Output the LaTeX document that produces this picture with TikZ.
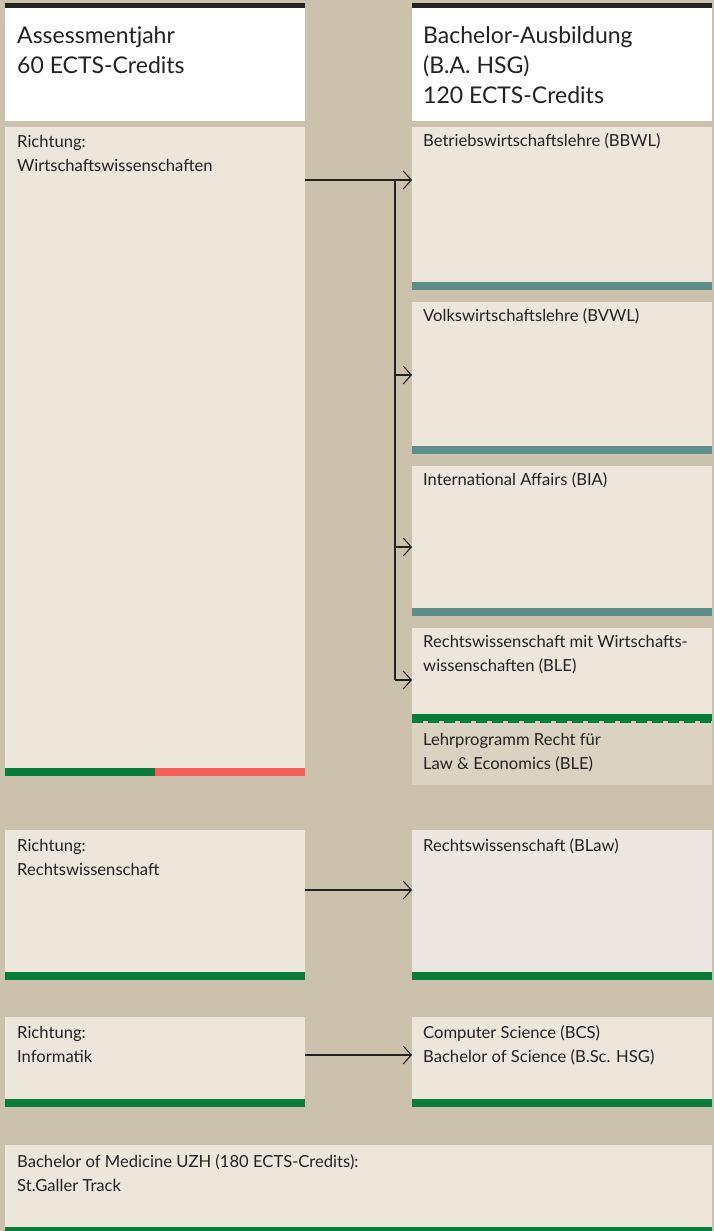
\documentclass[tikz,border=0pt]{standalone}
\usepackage{fontspec}
\setmainfont{Lato}
\usetikzlibrary{arrows.meta}
\definecolor{tanbg}{HTML}{CCC1AC}
\definecolor{boxfill}{HTML}{ECE6DB}
\definecolor{lawfill}{HTML}{ECE8E1}
\definecolor{lehrfill}{HTML}{DBD2C1}
\definecolor{tealbar}{HTML}{5E8E8A}
\definecolor{greenbar}{HTML}{087D38}
\definecolor{redbar}{HTML}{F65F5A}
\definecolor{ink}{HTML}{222222}
\tikzset{
  box/.style={rectangle, draw=none, fill=boxfill, inner sep=0pt, anchor=north west, minimum width=300pt},
  hdr/.style={box, fill=white, minimum height=118pt},
  txt/.style={anchor=north west, inner sep=0pt, align=left, text=ink, font=\fontsize{16.6}{24}\selectfont},
  htxt/.style={anchor=north west, inner sep=0pt, align=left, text=ink, font=\fontsize{23}{30}\selectfont},
  conn/.style={draw=ink, line width=1.1pt, -{Straight Barb[length=8pt,width=18pt,line width=1.1pt]}},
  connline/.style={draw=ink, line width=1.1pt},
}
\begin{document}
\begin{tikzpicture}[x=1pt,y=-1pt]
\fill[tanbg] (0,0) rectangle (714,1231);
\useasboundingbox (0,0) rectangle (714,1231);
% headers
\node[hdr] (hL) at (5,3) {};
\node[hdr] (hR) at (412,3) {};
\fill[ink] (hL.north west) rectangle ++(300,5);
\fill[ink] (hR.north west) rectangle ++(300,5);
\node[htxt] (hLt) at ([shift={(12,40-21)}]hL.north west) {\strut Assessmentjahr\\60 ECTS-Credits};
\node[htxt] (hRt) at ([shift={(11,40-21)}]hR.north west) {\strut Bachelor-Ausbildung\\(B.A. HSG)\\120 ECTS-Credits};
% left column
\node[box, minimum height=649pt] (ass) at (5,127) {};
\fill[greenbar] (ass.south west) rectangle ++(150,-8);
\fill[redbar] ([xshift=150pt]ass.south west) rectangle ++(150,-8);
\node[txt] at ([shift={(12,20-16.8)}]ass.north west) {\strut Richtung:\\Wirtschaftswissenschaften};
\node[box, minimum height=150pt] (rw) at (5,830) {};
\fill[greenbar] (rw.south west) rectangle ++(300,-8);
\node[txt] at ([shift={(12,21-16.8)}]rw.north west) {\strut Richtung:\\Rechtswissenschaft};
\node[box, minimum height=90pt] (inf) at (5,1017) {};
\fill[greenbar] (inf.south west) rectangle ++(300,-8);
\node[txt] at ([shift={(12,21-16.8)}]inf.north west) {\strut Richtung:\\Informatik};
% right column
\node[box, minimum height=163pt] (bbwl) at (412,127) {};
\fill[tealbar] (bbwl.south west) rectangle ++(300,-8);
\node[txt] at ([shift={(11,19-16.8)}]bbwl.north west) {\strut Betriebswirtschaftslehre (BBWL)};
\node[box, minimum height=152pt] (bvwl) at (412,302) {};
\fill[tealbar] (bvwl.south west) rectangle ++(300,-8);
\node[txt] at ([shift={(11,19-16.8)}]bvwl.north west) {\strut Volkswirtschaftslehre (BVWL)};
\node[box, minimum height=150pt] (bia) at (412,466) {};
\fill[tealbar] (bia.south west) rectangle ++(300,-8);
\node[txt] at ([shift={(11,19-16.8)}]bia.north west) {\strut International Affairs (BIA)};
\node[box, minimum height=93pt] (ble) at (412,628) {};
\node[box, fill=lehrfill, minimum height=64pt] (lehr) at (412,721) {};
\fill[greenbar] (ble.south west) rectangle ++(300,-7);
\draw[greenbar, line width=2pt, dash pattern=on 11pt off 5pt] ([yshift=-1pt]lehr.north west) -- ([yshift=-1pt]lehr.north east);
\node[txt] at ([shift={(11,19-16.8)}]ble.north west) {\strut Rechtswissenschaft mit Wirtschafts-\\wissenschaften (BLE)};
\node[txt] at ([shift={(11,24-16.8)}]lehr.north west) {\strut Lehrprogramm Recht für\\Law \& Economics (BLE)};
\node[box, fill=lawfill, minimum height=150pt] (blaw) at (412,830) {};
\fill[greenbar] (blaw.south west) rectangle ++(300,-8);
\node[txt] at ([shift={(11,21-16.8)}]blaw.north west) {\strut Rechtswissenschaft (BLaw)};
\node[box, minimum height=90pt] (bcs) at (412,1017) {};
\fill[greenbar] (bcs.south west) rectangle ++(300,-8);
\node[txt] at ([shift={(11,21-16.8)}]bcs.north west) {\strut Computer Science (BCS)\\Bachelor of Science (B.Sc. HSG)};
% medicine
\node[box, minimum width=707pt, minimum height=86pt] (med) at (5,1145) {};
\fill[greenbar] (med.south west) rectangle ++(707,-4);
\node[txt] at ([shift={(12,22-16.8)}]med.north west) {\strut Bachelor of Medicine UZH (180 ECTS-Credits):\\St.Galler Track};
% connectors
\coordinate (j0) at (395,180);
\coordinate (j3) at (395,680);
\draw[conn] (ass.east |- j0) -- (bbwl.west |- j0);
\draw[connline] (j0) -- (j3);
\draw[conn] (395,375) -- (bvwl.west |- 0,375);
\draw[conn] (395,547) -- (bia.west |- 0,547);
\draw[conn] (j3) -- (ble.west |- j3);
\draw[conn] (rw.east |- 0,890) -- (blaw.west |- 0,890);
\draw[conn] (inf.east |- 0,1055) -- (bcs.west |- 0,1055);
\end{tikzpicture}
\end{document}
